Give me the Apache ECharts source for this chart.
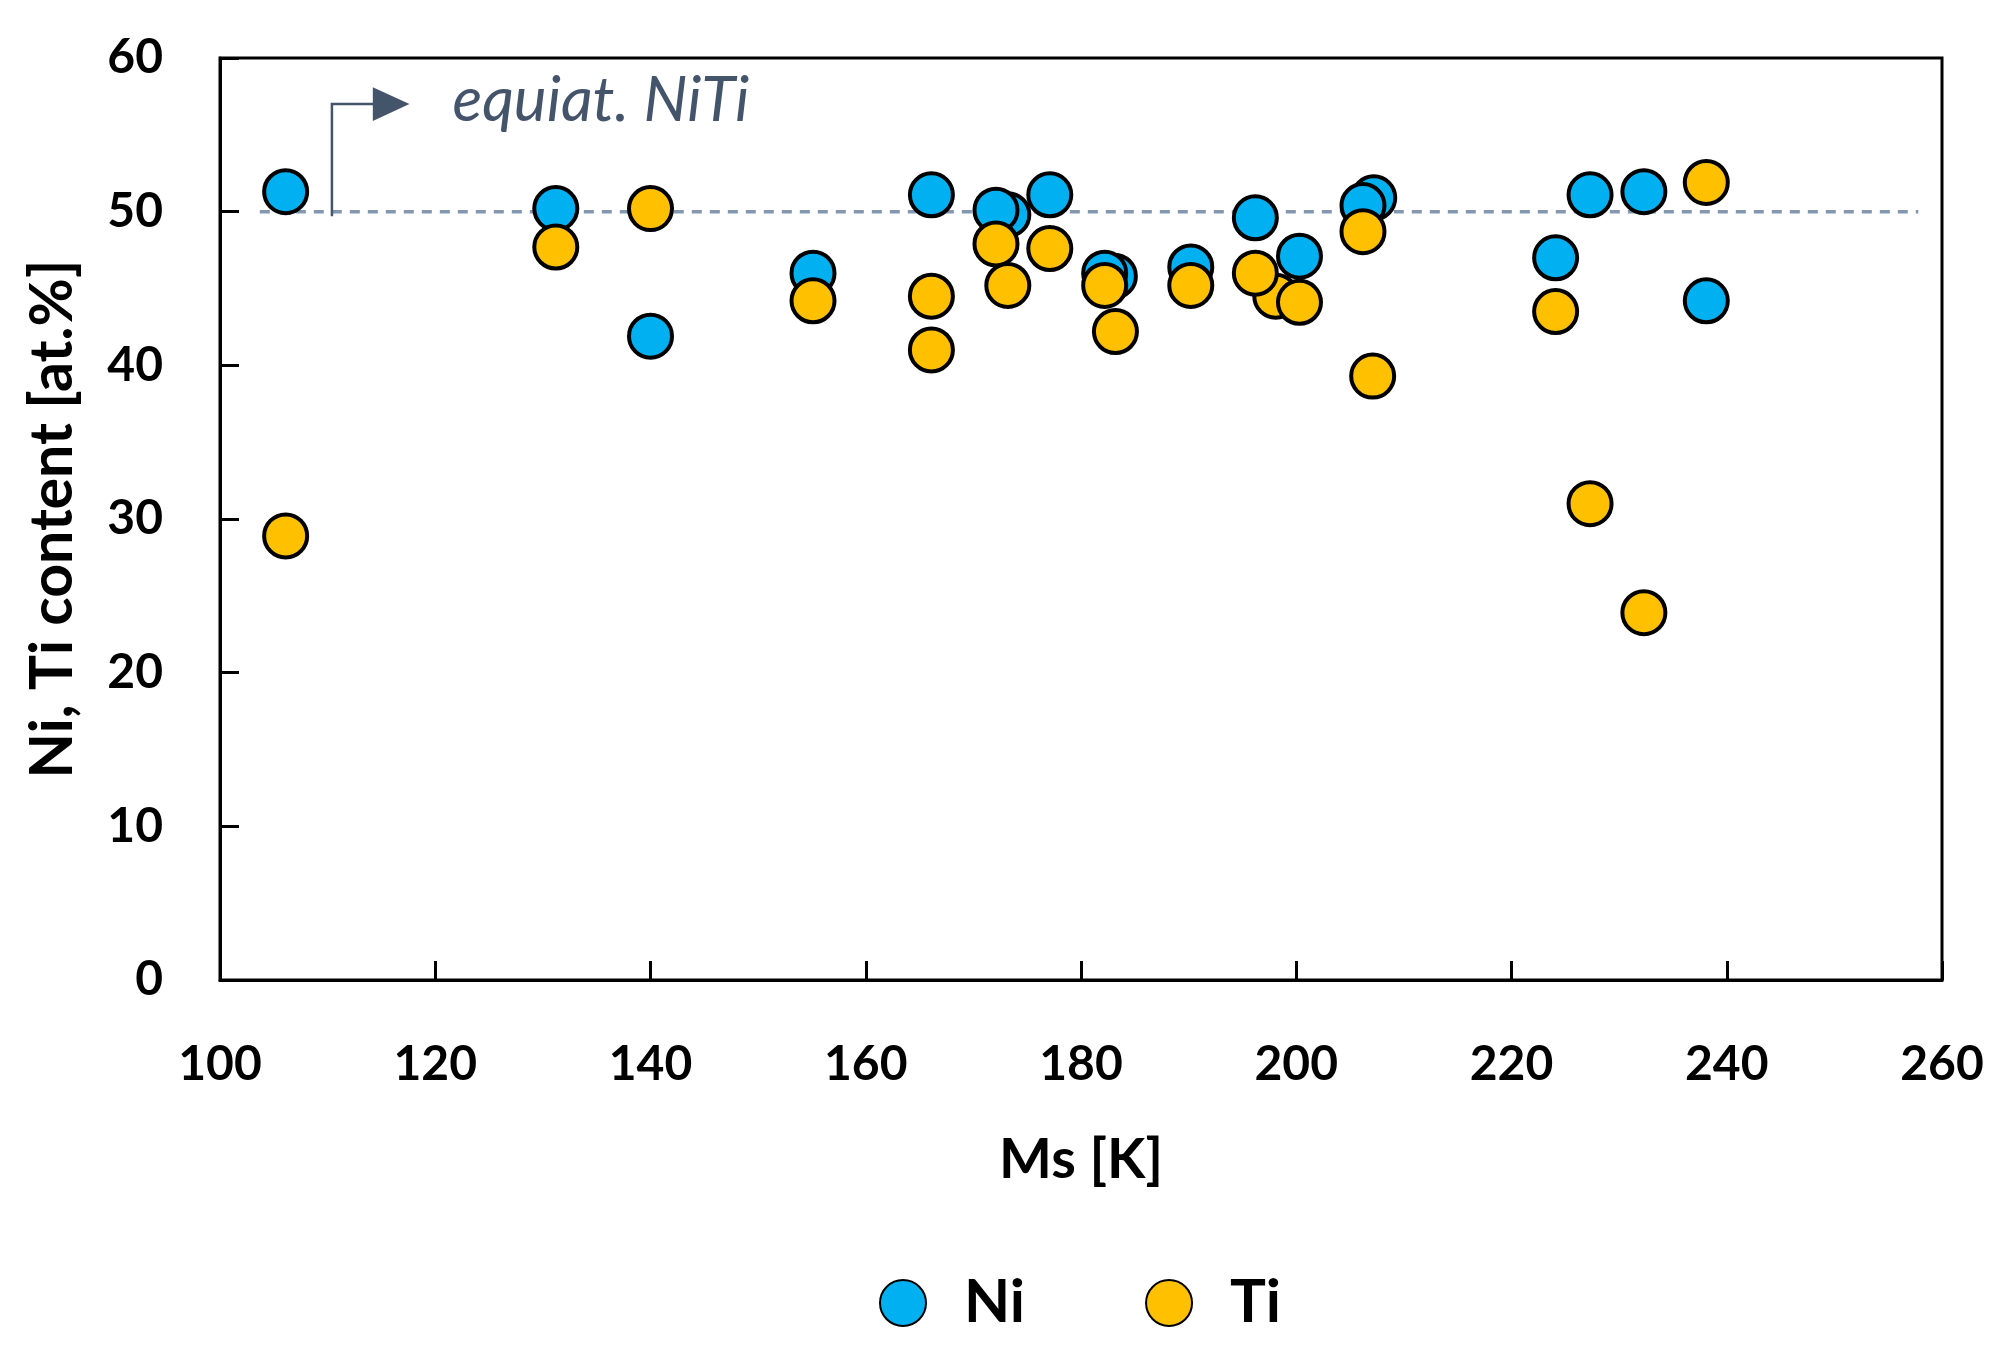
<!DOCTYPE html>
<html>
<head>
<meta charset="utf-8">
<script src="https://cdn.jsdelivr.net/npm/echarts@6/dist/echarts.min.js"></script>
<style>
html,body{margin:0;padding:0;background:#fff;}
#chart{width:2006px;height:1358px;}
</style>
</head>
<body>
<div id="chart"></div>
<script>
// ---- data ----
const niMs  = [106.1, 131.2, 140.0, 155.1, 166.1, 173.2, 172.1, 177.1, 183.1, 182.2, 190.2, 196.2, 200.3, 207.2, 206.2, 224.1, 227.3, 232.3, 238.1];
const niVal = [51.3, 50.2, 41.9, 46.0, 51.1, 49.8, 50.1, 51.1, 45.8, 46.0, 46.4, 49.6, 47.1, 50.9, 50.4, 47.0, 51.1, 51.3, 44.2];
const tiMs  = [106.1, 131.2, 140.0, 155.1, 166.1, 166.1, 172.1, 173.2, 177.1, 182.2, 183.2, 190.2, 198.1, 196.2, 200.3, 206.2, 207.1, 224.1, 227.3, 232.3, 238.1];
const tiVal = [28.9, 47.7, 50.2, 44.2, 44.5, 41.0, 47.9, 45.2, 47.6, 45.2, 42.2, 45.2, 44.5, 46.0, 44.1, 48.7, 39.3, 43.5, 31.0, 23.9, 51.9];
const equiatLevel = 50;
const equiatRange = [103.7, 257.8];
const xTicks = [100, 260, 20];
const yTicks = [0, 60, 10];
const annoText = 'equiat. NiTi';
const annoLine = [[110.4, 49.7], [110.4, 57.0], [114.4, 57.0]];
const annoHead = [[114.2, 58.1], [117.6, 57.0], [114.2, 55.9]];
const annoLabelAt = [121.6, 57.2];

const FONT = 'Lato';
const chart = echarts.init(document.getElementById('chart'));

function pairs(xs, ys){ return xs.map((x,i)=>[x, ys[i]]); }

const option = {
  backgroundColor: '#ffffff',
  animation: false,
  textStyle: {fontFamily: FONT},
  grid: {left: 220, right: 64, top: 58, bottom: 378, show: true, borderColor: '#000', borderWidth: 3},
  xAxis: {
    type: 'value', min: xTicks[0], max: xTicks[1], interval: xTicks[2],
    name: 'Ms [K]', nameLocation: 'middle', nameGap: 152,
    nameTextStyle: {fontFamily: FONT, fontWeight: 'bold', fontSize: 56, color: '#000'},
    axisLine: {show: true, onZero: false, lineStyle: {color: '#000', width: 3}},
    axisTick: {show: true, inside: true, length: 19, lineStyle: {color: '#000', width: 3}},
    axisLabel: {fontFamily: FONT, fontWeight: 'bold', fontSize: 48, color: '#000', margin: 61},
    splitLine: {show: false}
  },
  yAxis: {
    type: 'value', min: yTicks[0], max: yTicks[1], interval: yTicks[2],
    name: 'Ni, Ti content [at.%]', nameLocation: 'middle', nameGap: 138,
    nameTextStyle: {fontFamily: FONT, fontWeight: 'bold', fontSize: 59, color: '#000'},
    axisLine: {show: true, onZero: false, lineStyle: {color: '#000', width: 3}},
    axisTick: {show: true, inside: true, length: 19, lineStyle: {color: '#000', width: 3}},
    axisLabel: {fontFamily: FONT, fontWeight: 'bold', fontSize: 48, color: '#000', margin: 57},
    splitLine: {show: false}
  },
  legend: {
    data: ['Ni', 'Ti'],
    left: 879, top: 1273, padding: 0,
    icon: 'circle', itemWidth: 46, itemHeight: 46, itemGap: 120,
    textStyle: {fontFamily: FONT, fontWeight: 'bold', fontSize: 60, lineHeight: 60, color: '#000', padding: [0, 0, 0, 33]}
  },
  series: [
    {
      name: 'equiat', type: 'line', silent: true, symbol: 'none', z: 1,
      data: [[equiatRange[0], equiatLevel], [equiatRange[1], equiatLevel]],
      lineStyle: {color: '#8497B0', width: 3.5, type: [10, 8]}
    },
    {
      name: 'Ni', type: 'scatter', symbol: 'circle', symbolSize: 43, z: 3,
      data: pairs(niMs, niVal),
      itemStyle: {color: '#00B0F0', borderColor: '#000', borderWidth: 4, opacity: 1}
    },
    {
      name: 'Ti', type: 'scatter', symbol: 'circle', symbolSize: 43, z: 4,
      data: pairs(tiMs, tiVal),
      itemStyle: {color: '#FFC000', borderColor: '#000', borderWidth: 4, opacity: 1}
    }
  ]
};
chart.setOption(option);

function px(p){ return chart.convertToPixel({gridIndex: 0}, p); }
const lab = px(annoLabelAt);
chart.setOption({
  graphic: [
    {type: 'polyline', z: 10, shape: {points: annoLine.map(px)}, style: {stroke: '#44546A', lineWidth: 2.5, fill: null}},
    {type: 'polygon', z: 10, shape: {points: annoHead.map(px)}, style: {fill: '#44546A'}},
    {type: 'text', z: 10, x: lab[0], y: lab[1], style: {text: annoText, fontFamily: FONT, fontStyle: 'italic', fontSize: 62, fill: '#44546A', verticalAlign: 'middle', align: 'left'}}
  ]
});
</script>
</body>
</html>
